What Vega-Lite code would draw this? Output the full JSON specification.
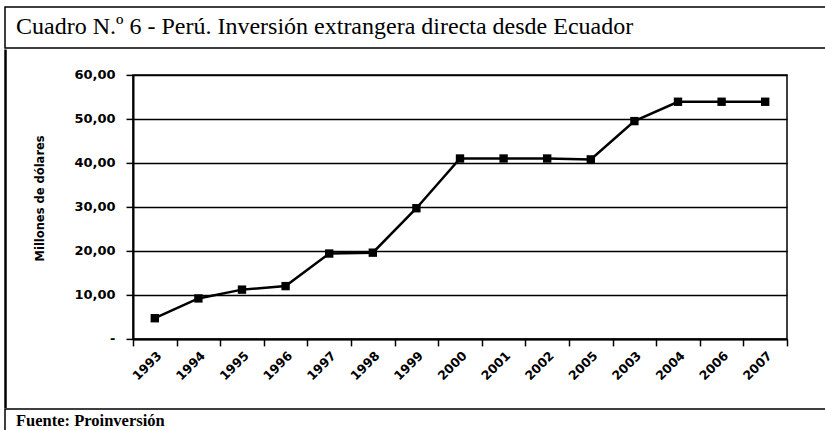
{
  "$schema": "https://vega.github.io/schema/vega-lite/v6.json",
  "padding": {"left": 4, "top": 6, "right": 0, "bottom": 0},
  "background": "white",
  "spacing": 0,
  "config": {
    "view": {"stroke": "black", "strokeWidth": 1.5},
    "font": "DejaVu Sans"
  },
  "vconcat": [
    {
      "width": 821,
      "height": 41,
      "data": {"values": [{"t": "Cuadro N.º 6 - Perú. Inversión extrangera directa desde Ecuador"}]},
      "mark": {"type": "text", "align": "left", "baseline": "middle", "dx": 11, "dy": -1, "font": "Liberation Serif", "fontSize": 24, "color": "black"},
      "encoding": {
        "text": {"field": "t"},
        "x": {"datum": 0, "type": "quantitative", "scale": {"domain": [0, 1]}, "axis": null}
      }
    },
    {
      "hconcat": [
        {
          "width": 1,
          "height": 357,
          "data": {"values": [{"t": ""}]},
          "mark": {"type": "text"},
          "encoding": {
            "text": {"field": "t"},
            "x": {"datum": 0, "type": "quantitative", "scale": {"domain": [0, 1]}, "axis": null}
          }
        },
        {
          "width": 654,
          "height": 264,
          "title": {"text": " ", "fontSize": 10, "offset": 8},
          "data": {
            "values": [
              {"anio": "1993", "valor": 4.7},
              {"anio": "1994", "valor": 9.2},
              {"anio": "1995", "valor": 11.2},
              {"anio": "1996", "valor": 12.0},
              {"anio": "1997", "valor": 19.4},
              {"anio": "1998", "valor": 19.6},
              {"anio": "1999", "valor": 29.7},
              {"anio": "2000", "valor": 41.0},
              {"anio": "2001", "valor": 41.0},
              {"anio": "2002", "valor": 41.0},
              {"anio": "2005", "valor": 40.8},
              {"anio": "2003", "valor": 49.5},
              {"anio": "2004", "valor": 53.9},
              {"anio": "2006", "valor": 53.9},
              {"anio": "2007", "valor": 53.9}
            ]
          },
          "encoding": {
            "x": {
              "field": "anio",
              "type": "ordinal",
              "sort": null,
              "scale": {"type": "band", "paddingInner": 0, "paddingOuter": 0},
              "axis": {
                "title": null,
                "labelAngle": -45,
                "labelFont": "DejaVu Sans",
                "labelFontWeight": "bold",
                "labelFontSize": 12.5,
                "labelColor": "black",
                "tickBand": "extent",
                "tickColor": "black",
                "tickWidth": 1.5,
                "tickSize": 7,
                "domainColor": "black",
                "domainWidth": 2,
                "labelPadding": 3
              }
            },
            "y": {
              "field": "valor",
              "type": "quantitative",
              "scale": {"domain": [0, 60], "nice": false},
              "axis": {
                "title": "Millones de dólares",
                "titleFont": "DejaVu Sans",
                "titleFontWeight": "bold",
                "titleFontSize": 11.5,
                "titleColor": "black",
                "titlePadding": 28,
                "titleY": 123,
                "values": [0, 10, 20, 30, 40, 50, 60],
                "labelExpr": "datum.value == 0 ? '-' : replace(format(datum.value, '.2f'), '.', ',')",
                "labelFont": "DejaVu Sans",
                "labelFontWeight": "bold",
                "labelFontSize": 13,
                "labelColor": "black",
                "labelPadding": 11,
                "tickColor": "black",
                "tickWidth": 1.5,
                "tickSize": 7,
                "domainColor": "black",
                "domainWidth": 2,
                "grid": true,
                "gridColor": "black",
                "gridWidth": 1.5,
                "gridOpacity": 1
              }
            }
          },
          "layer": [
            {"mark": {"type": "line", "color": "black", "strokeWidth": 2.5}},
            {"mark": {"type": "square", "color": "black", "filled": true, "size": 70, "opacity": 1}}
          ]
        }
      ],
      "spacing": 27,
      "center": true
    },
    {
      "width": 821,
      "height": 26,
      "data": {"values": [{"t": "Fuente: Proinversión"}]},
      "mark": {"type": "text", "align": "left", "baseline": "middle", "dx": 11, "dy": -1, "font": "Liberation Serif", "fontWeight": "bold", "fontSize": 16.5, "color": "black"},
      "encoding": {
        "text": {"field": "t"},
        "x": {"datum": 0, "type": "quantitative", "scale": {"domain": [0, 1]}, "axis": null}
      }
    }
  ]
}
